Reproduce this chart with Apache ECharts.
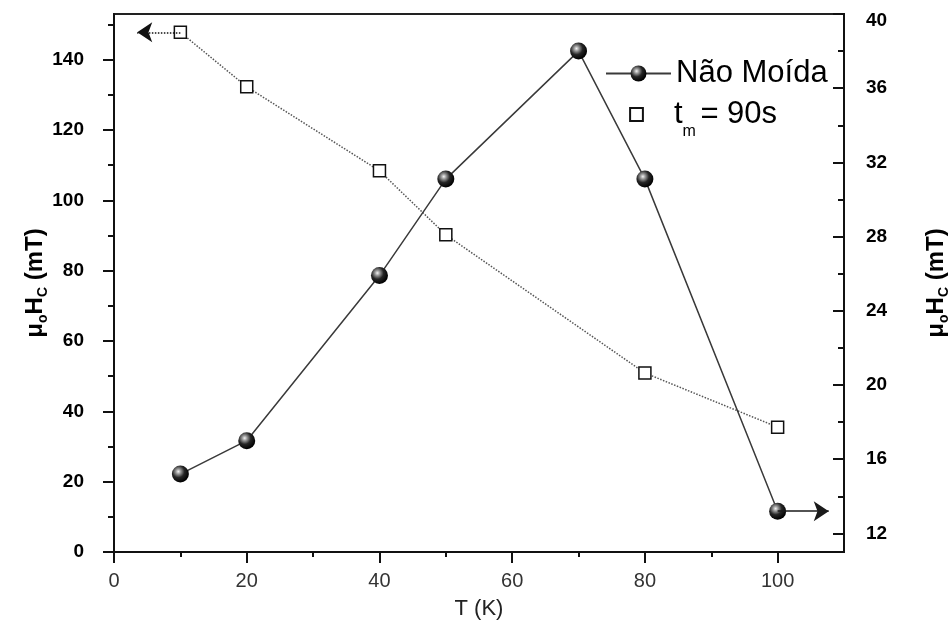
<!DOCTYPE html>
<html>
<head>
<meta charset="utf-8">
<script src="https://cdn.jsdelivr.net/npm/echarts@6/dist/echarts.min.js"></script>
<style>
  html, body { margin: 0; padding: 0; background: #fff; }
  #chart { width: 951px; height: 628px; }
</style>
</head>
<body>
<div id="chart"></div>
<script>
// Coercive field vs temperature
const tempsRaw = [10, 20, 40, 50, 70, 80, 100];          // T (K), unmilled sample
const hcRaw = [15.2, 17.0, 25.9, 31.1, 38.0, 31.1, 13.2]; // right axis (mT)
const tempsMilled = [10, 20, 40, 50, 80, 100];            // T (K), milled 90 s
const hcMilled = [147.8, 132.3, 108.4, 90.2, 50.9, 35.5]; // left axis (mT)

const xMajor = [0, 20, 40, 60, 80, 100];
const xMinor = [10, 30, 50, 70, 90];
const leftMajor = [0, 20, 40, 60, 80, 100, 120, 140];
const leftMinor = [10, 30, 50, 70, 90, 110, 130, 150];
const rightMajor = [12, 16, 20, 24, 28, 32, 36, 40];
const rightMinor = [14, 18, 22, 26, 30, 34, 38];

const FONT = 'Liberation Sans, Arial, Helvetica, sans-serif';

const sphere = new echarts.graphic.RadialGradient(0.38, 0.35, 0.65, [
  { offset: 0, color: '#f4f4f4' },
  { offset: 0.22, color: '#9a9a9a' },
  { offset: 0.55, color: '#262626' },
  { offset: 1, color: '#000000' }
]);

const titleRich = {
  b: { fontSize: 24, fontWeight: 'bold', fontFamily: FONT, color: '#000' },
  s: { fontSize: 14, fontWeight: 'bold', fontFamily: FONT, color: '#000',
       verticalAlign: 'bottom', padding: [15, 0, 0, 0] }
};
const yTitle = '{b|μ}{s|o}{b|H}{s|C}{b| (mT)}';

const pairs = (xs, ys) => xs.map((x, i) => [x, ys[i]]);
const lastRaw = tempsRaw.length - 1;

const option = {
  animation: false,
  backgroundColor: '#fff',
  grid: [
    { left: 114, top: 14, right: 107, bottom: 76, show: true, outerBoundsMode: 'none',
      borderColor: '#222', borderWidth: 2, backgroundColor: 'transparent' },
    { left: 114, top: 14, right: 107, bottom: 76, outerBoundsMode: 'none' }
  ],
  xAxis: [
    {
      type: 'value', gridIndex: 0, min: 0, max: 110, position: 'bottom',
      axisLine: { show: true, onZero: false, lineStyle: { color: '#111', width: 2 } },
      axisTick: { show: true, length: 11, customValues: xMajor,
                  lineStyle: { color: '#111', width: 2 } },
      axisLabel: { customValues: xMajor, margin: 19, fontSize: 20,
                   fontFamily: FONT, color: '#333' },
      splitLine: { show: false },
      name: 'T (K)', nameLocation: 'middle', nameGap: 46,
      nameTextStyle: { fontSize: 22, fontFamily: FONT, color: '#222' }
    },
    {
      type: 'value', gridIndex: 1, min: 0, max: 110, position: 'bottom',
      axisLine: { show: false },
      axisTick: { show: true, length: 5, customValues: xMinor,
                  lineStyle: { color: '#111', width: 2 } },
      axisLabel: { show: false, customValues: xMinor },
      splitLine: { show: false }
    }
  ],
  yAxis: [
    {
      type: 'value', gridIndex: 0, min: 0, max: 153, position: 'left',
      axisLine: { show: true, onZero: false, lineStyle: { color: '#111', width: 2 } },
      axisTick: { show: true, length: 11, customValues: leftMajor,
                  lineStyle: { color: '#111', width: 2 } },
      axisLabel: { customValues: leftMajor, margin: 30, fontSize: 19,
                   fontWeight: 'bold', fontFamily: FONT, color: '#000' },
      splitLine: { show: false },
      name: yTitle, nameLocation: 'middle', nameGap: 64, nameRotate: 90,
      nameMoveOverlap: false,
      nameTextStyle: { rich: titleRich }
    },
    {
      type: 'value', gridIndex: 0, min: 11, max: 40, position: 'right',
      axisLine: { show: true, onZero: false, lineStyle: { color: '#111', width: 2 } },
      axisTick: { show: true, inside: true, length: 11, customValues: rightMajor,
                  lineStyle: { color: '#111', width: 2 } },
      axisLabel: {
        customValues: rightMajor, margin: 22, fontSize: 19,
        fontWeight: 'bold', fontFamily: FONT, color: '#000',
        // the top label sits a little below the frame corner
        formatter: v => (v === 40 ? '{top|40}' : String(v)),
        rich: { top: { fontSize: 19, fontWeight: 'bold', fontFamily: FONT,
                       color: '#000', padding: [14, 0, 0, 0] } }
      },
      splitLine: { show: false },
      name: yTitle, nameLocation: 'middle', nameGap: 78, nameRotate: 90,
      nameTextStyle: { rich: titleRich }
    },
    {
      type: 'value', gridIndex: 1, min: 0, max: 153, position: 'left',
      axisLine: { show: false },
      axisTick: { show: true, length: 6, customValues: leftMinor,
                  lineStyle: { color: '#111', width: 2 } },
      axisLabel: { show: false, customValues: leftMinor },
      splitLine: { show: false }
    },
    {
      type: 'value', gridIndex: 1, min: 11, max: 40, position: 'right',
      axisLine: { show: false },
      axisTick: { show: true, inside: true, length: 6, customValues: rightMinor,
                  lineStyle: { color: '#111', width: 2 } },
      axisLabel: { show: false, customValues: rightMinor },
      splitLine: { show: false }
    }
  ],
  legend: [
    {
      left: 600, top: 53, orient: 'vertical',
      itemWidth: 65, itemHeight: 20,
      data: ['Não Moída'],
      textStyle: { fontSize: 31, fontFamily: FONT, color: '#000' }
    },
    {
      left: 598, top: 94, orient: 'vertical',
      itemWidth: 65, itemHeight: 16,
      data: ['tm'],
      lineStyle: { opacity: 0 },
      formatter: () => '{n|t}{m|m }{n|= 90s}',
      textStyle: {
        fontFamily: FONT, color: '#000',
        rich: {
          n: { fontSize: 31, fontFamily: FONT, color: '#000' },
          m: { fontSize: 16, fontFamily: FONT, color: '#000',
               verticalAlign: 'bottom', padding: [34, 0, 0, 0] }
        }
      }
    }
  ],
  series: [
    {
      name: 'Não Moída', type: 'line', xAxisIndex: 0, yAxisIndex: 1,
      data: pairs(tempsRaw, hcRaw),
      symbol: 'circle', symbolSize: 17,
      itemStyle: { color: sphere },
      lineStyle: { color: '#3a3a3a', width: 1.5 },
      z: 3,
      markLine: {
        silent: true, symbol: ['none', 'arrow'], symbolSize: 15,
        label: { show: false },
        lineStyle: { color: '#1a1a1a', width: 1.5, type: 'solid' },
        data: [[
          { coord: [tempsRaw[lastRaw], hcRaw[lastRaw]] },
          { coord: [107.7, hcRaw[lastRaw]] }
        ]]
      }
    },
    {
      name: 'tm', type: 'line', xAxisIndex: 0, yAxisIndex: 0,
      data: pairs(tempsMilled, hcMilled),
      symbol: 'rect', symbolSize: 12,
      itemStyle: { color: '#fff', borderColor: '#111', borderWidth: 1.5 },
      lineStyle: { color: '#555', width: 1.5, type: 'dotted' },
      z: 2,
      markLine: {
        silent: true, symbol: ['none', 'arrow'], symbolSize: 15,
        label: { show: false },
        lineStyle: { color: '#111', width: 1.5, type: 'dotted' },
        data: [[
          { coord: [tempsMilled[0], hcMilled[0]] },
          { coord: [3.5, hcMilled[0]] }
        ]]
      }
    }
  ]
};

const chart = echarts.init(document.getElementById('chart'), null, { renderer: 'canvas' });
chart.setOption(option);
</script>
</body>
</html>
